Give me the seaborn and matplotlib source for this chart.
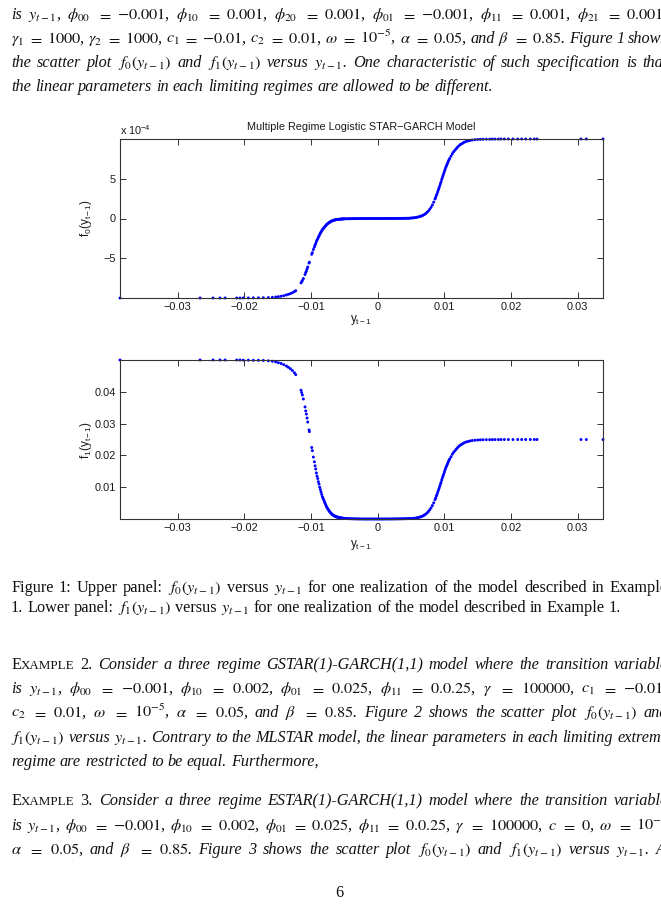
import matplotlib
matplotlib.use("Agg")
import matplotlib.pyplot as plt
import seaborn as sns
import pandas as pd

# one realization: lagged transition variable y_{t-1} (shared by both panels)
y_lag = [
    -0.03866, -0.02665, -0.0247, -0.02366, -0.0229, -0.02115, -0.02066, -0.02016,
    -0.0194, -0.01866, -0.0179, -0.01716, -0.0164,
    -0.0158, -0.0153, -0.0149, -0.0145, -0.0141, -0.0137, -0.0134, -0.0131,
    -0.0128, -0.0125, -0.0123,
    -0.0115, -0.0114, -0.0113, -0.01115,
    -0.0109, -0.0108, -0.0107, -0.0106, -0.0105, -0.0103, -0.01025,
    -0.0099, -0.0098, -0.00965, -0.0095, -0.0094, -0.0093, -0.0092, -0.0091,
    -0.0090, -0.0089, -0.0088, -0.0087, -0.0086, -0.0085, -0.0084, -0.0083,
    -0.0082, -0.0081, -0.0080, -0.0079, -0.0078, -0.0077, -0.0076, -0.0075,
    -0.0074, -0.0073, -0.0072, -0.0071, -0.0070, -0.0069, -0.0068, -0.0067,
    -0.0066, -0.0065, -0.0064, -0.0063, -0.0062, -0.0061, -0.0060, -0.0059,
    -0.0058, -0.0057, -0.0056, -0.0055, -0.0054, -0.0053, -0.0052, -0.0051,
    -0.0050, -0.0048, -0.0046, -0.0044, -0.0042, -0.0040, -0.0038, -0.0036,
    -0.0034, -0.0032, -0.0030, -0.0028, -0.0026, -0.0024, -0.0022, -0.0020,
    -0.0018, -0.0016, -0.0014, -0.0012, -0.0010, -0.0008, -0.0006, -0.0004,
    -0.0002, 0.0000, 0.0002, 0.0004, 0.0006, 0.0008, 0.0010, 0.0012, 0.0014,
    0.0016, 0.0018, 0.0020, 0.0022, 0.0024, 0.0026, 0.0028, 0.0030, 0.0032,
    0.0034, 0.0036, 0.0038, 0.0040, 0.0042, 0.0044, 0.0046, 0.0048,
    0.0050, 0.0052, 0.0054, 0.0056, 0.0058, 0.0060, 0.0062, 0.0064, 0.0066,
    0.0068, 0.0070, 0.0072, 0.0074, 0.0076, 0.0078, 0.0080, 0.0082, 0.0084,
    0.0086, 0.0087, 0.0088, 0.0089, 0.0090, 0.0091, 0.0092, 0.0093, 0.0094,
    0.0095, 0.0096, 0.0097, 0.0098, 0.0099, 0.0100, 0.0101, 0.0102, 0.0103,
    0.0104, 0.0105, 0.0106, 0.0107, 0.0108, 0.0110, 0.0112, 0.0114, 0.0116,
    0.0118, 0.0120, 0.0122, 0.0124, 0.0126, 0.0128, 0.0130, 0.0133, 0.0136,
    0.0139, 0.0142, 0.0146, 0.0150, 0.0154,
    0.0158, 0.0163, 0.0168, 0.0172, 0.0176, 0.0181, 0.0185, 0.0190, 0.0196,
    0.0203, 0.0210, 0.0216, 0.0222, 0.0229, 0.0235, 0.0239, 0.0305, 0.0313,
    0.0338,
]

# f0(y_{t-1}), in units of 1e-4
f0_e4 = [
    -10.0, -10.0, -10.0, -10.0, -10.0, -10.0, -10.0, -9.99,
    -9.99, -9.98, -9.98, -9.97, -9.95,
    -9.92, -9.88, -9.83, -9.78, -9.71, -9.62, -9.54, -9.45,
    -9.34, -9.2, -9.08,
    -8.1, -7.95, -7.8, -7.55,
    -7.05, -6.8, -6.6, -6.35, -6.1, -5.6, -5.5,
    -4.5, -4.3, -3.9, -3.6, -3.35, -3.15, -2.9, -2.7,
    -2.55, -2.35, -2.2, -2.0, -1.85, -1.7, -1.55, -1.4,
    -1.3, -1.2, -1.1, -1.0, -0.9, -0.8, -0.72, -0.65,
    -0.58, -0.52, -0.46, -0.41, -0.36, -0.32, -0.28, -0.25,
    -0.22, -0.2, -0.18, -0.16, -0.14, -0.13, -0.12, -0.11,
    -0.1, -0.09, -0.08, -0.07, -0.06, -0.06, -0.05, -0.05,
    -0.04, -0.035, -0.03, -0.027, -0.023, -0.02, -0.017, -0.015,
    -0.013, -0.011, -0.01, -0.008, -0.007, -0.006, -0.005, -0.004,
    -0.003, -0.003, -0.002, -0.002, -0.001, -0.001, -0.001, 0.0,
    0.0, 0.0, 0.0, 0.0, 0.001, 0.001, 0.001, 0.002, 0.002,
    0.003, 0.003, 0.004, 0.005, 0.006, 0.007, 0.008, 0.01, 0.011,
    0.013, 0.015, 0.017, 0.02, 0.023, 0.027, 0.031, 0.035,
    0.06, 0.07, 0.09, 0.11, 0.14, 0.18, 0.22, 0.27, 0.33,
    0.41, 0.5, 0.62, 0.77, 0.94, 1.15, 1.4, 1.7, 2.05,
    2.45, 2.65, 2.9, 3.1, 3.35, 3.6, 3.85, 4.1, 4.35,
    4.6, 4.9, 5.15, 5.4, 5.65, 5.9, 6.15, 6.4, 6.6,
    6.8, 7.0, 7.2, 7.4, 7.55, 7.85, 8.15, 8.4, 8.6,
    8.8, 9.0, 9.15, 9.3, 9.4, 9.5, 9.6, 9.7, 9.77,
    9.83, 9.87, 9.91, 9.94, 9.96,
    9.97, 9.98, 9.98, 9.99, 9.99, 9.99, 10.0, 10.0, 10.0,
    10.0, 10.0, 10.0, 10.0, 10.0, 10.0, 10.0, 10.0, 10.0,
    10.0,
]

# f1(y_{t-1})
f1 = [
    0.05, 0.05, 0.05, 0.05, 0.05, 0.05, 0.05, 0.04995,
    0.04995, 0.0499, 0.0499, 0.04985, 0.04975,
    0.0496, 0.0494, 0.04915, 0.0489, 0.04855, 0.0481, 0.0477, 0.04725,
    0.0467, 0.046, 0.0454,
    0.0405, 0.03975, 0.039, 0.03775,
    0.03525, 0.034, 0.033, 0.03175, 0.0305, 0.028, 0.0275,
    0.0225, 0.0215, 0.0195, 0.018, 0.01675, 0.01575, 0.0145, 0.0135,
    0.01275, 0.01175, 0.011, 0.010, 0.00925, 0.0085, 0.00775, 0.007,
    0.0065, 0.006, 0.0055, 0.005, 0.0045, 0.004, 0.0036, 0.00325,
    0.0029, 0.0026, 0.0023, 0.00205, 0.0018, 0.0016, 0.0014, 0.00125,
    0.0011, 0.001, 0.0009, 0.0008, 0.0007, 0.00065, 0.0006, 0.00055,
    0.0005, 0.00045, 0.0004, 0.00035, 0.0003, 0.0003, 0.00025, 0.00025,
    0.0002, 0.00018, 0.00016, 0.00014, 0.00012, 0.0001, 0.00009, 0.00008,
    0.00007, 0.00006, 0.00005, 0.00004, 0.00004, 0.00003, 0.00003, 0.00002,
    0.00002, 0.00002, 0.00002, 0.00002, 0.00002, 0.00002, 0.00002, 0.00002,
    0.00002, 0.00002, 0.00002, 0.00002, 0.00002, 0.00002, 0.00003, 0.00003, 0.00003,
    0.00003, 0.00004, 0.00004, 0.00004, 0.00005, 0.00005, 0.00006, 0.00006, 0.00007,
    0.00008, 0.00009, 0.0001, 0.00011, 0.00012, 0.00013, 0.00014, 0.00015,
    0.00015, 0.000175, 0.000225, 0.000275, 0.00035, 0.00045, 0.00055, 0.000675, 0.000825,
    0.001, 0.00125, 0.00155, 0.0019, 0.00235, 0.0029, 0.0035, 0.00425, 0.0051,
    0.0061, 0.0066, 0.00725, 0.00775, 0.0084, 0.009, 0.0096, 0.01025, 0.0109,
    0.0115, 0.01225, 0.0129, 0.0135, 0.0141, 0.01475, 0.0154, 0.016, 0.0165,
    0.017, 0.0175, 0.018, 0.0185, 0.0189, 0.0196, 0.0204, 0.021, 0.0215,
    0.022, 0.0225, 0.0229, 0.02325, 0.0235, 0.02375, 0.024, 0.02425, 0.0244,
    0.02458, 0.02468, 0.02478, 0.02485, 0.0249,
    0.02493, 0.02495, 0.02496, 0.02497, 0.02498, 0.02498, 0.025, 0.025, 0.025,
    0.025, 0.025, 0.025, 0.025, 0.025, 0.025, 0.025, 0.025, 0.025,
    0.025,
]

x_ticks = [-0.03, -0.02, -0.01, 0, 0.01, 0.02, 0.03]
x_tick_labels = ["\u22120.03", "\u22120.02", "\u22120.01", "0", "0.01", "0.02", "0.03"]
f0_ticks = [-5, 0, 5]
f0_tick_labels = ["\u22125", "0", "5"]
f1_ticks = [0.01, 0.02, 0.03, 0.04]
f1_tick_labels = ["0.01", "0.02", "0.03", "0.04"]

df = pd.DataFrame({"y_lag": y_lag, "f0": f0_e4, "f1": f1})

sns.set_style("ticks")
plt.rcParams["font.family"] = ["Liberation Sans", "DejaVu Sans"]
plt.rcParams["mathtext.fontset"] = "stix"

W, H = 661, 909
fig = plt.figure(figsize=(W / 100, H / 100), dpi=100)


def rect(l, t, r, b):
    return [l / W, 1 - b / H, (r - l) / W, (b - t) / H]


def px(x, y):
    return x / W, 1 - y / H


ink = "#1a1a1a"
tick_fs = 7.9


def panel(ax, col, ticks, labels, ylab_y, xlab_y):
    sns.scatterplot(data=df, x="y_lag", y=col, ax=ax, color="blue", s=4.5,
                    linewidth=0, edgecolor="none", legend=False, clip_on=False)
    ax.set_xlim(df["y_lag"].min(), df["y_lag"].max())
    ax.set_ylim(df[col].min(), df[col].max())
    ax.set_xticks(x_ticks)
    ax.set_xticklabels(x_tick_labels)
    ax.set_yticks(ticks)
    ax.set_yticklabels(labels)
    ax.tick_params(direction="in", top=True, right=True, length=4, width=0.7,
                   labelsize=tick_fs, labelcolor=ink, color="#333333", pad=3)
    for sp in ax.spines.values():
        sp.set_visible(True)
        sp.set_linewidth(0.8)
        sp.set_color("#333333")
    ax.set_xlabel("")
    ax.set_ylabel("")
    fig.text(*px(86, ylab_y), r"$\mathregular{f_%s(y_{t-1})}$" % col[1],
             rotation=90, ha="center", va="center", fontsize=8.5, color=ink)
    fig.text(*px(361, xlab_y), r"$\mathregular{y_{t-1}}$", ha="center",
             va="center", fontsize=8.5, color=ink)


ax0 = fig.add_axes(rect(120, 139, 603, 298))
panel(ax0, "f0", f0_ticks, f0_tick_labels, 218, 320)
fig.text(*px(361, 127), "Multiple Regime Logistic STAR\u2212GARCH Model",
         ha="center", va="center", fontsize=7.8, color=ink)
fig.text(*px(120, 130), r"$\mathregular{x\ 10^{-4}}$", ha="left", va="center",
         fontsize=7.8, color=ink)

ax1 = fig.add_axes(rect(120, 360, 603, 519))
panel(ax1, "f1", f1_ticks, f1_tick_labels, 440, 545)

# ---- surrounding page text (justified lines run past the cropped right edge) ----
renderer = fig.canvas.get_renderer()
body = 11.7
serif = ["Liberation Serif", "DejaVu Serif"]
it, rm = "italic", "normal"
space = 0.25 * body * 100 / 72


def words(text, style):
    return [[(w, 1.0, style)] for w in text.split()]


def line(y, ws, right=None, x0=11):
    groups = []
    for w in ws:
        off, arts = 0.0, []
        for txt, scale, style in w:
            t = fig.text(0, 0, txt, ha="left", va="baseline", fontsize=body * scale,
                         fontstyle=style, family=serif, color="#111111")
            arts.append((t, off))
            off += t.get_window_extent(renderer=renderer).width
        groups.append((arts, off))
    total = sum(g[1] for g in groups)
    gap = space if right is None else (right - x0 - total) / (len(groups) - 1)
    x = x0
    for arts, wdt in groups:
        for t, off in arts:
            t.set_position(px(x + off, y))
        x += wdt + gap


def example(n):
    return [[("E", 1.0, rm), ("XAMPLE", 0.8, rm)], [("%d." % n, 1.0, rm)]]


R = 668
line(19, words(r"is $y_{t-1}$, $\phi_{00}$ $=$ $-0.001$, $\phi_{10}$ $=$ $0.001$, "
               r"$\phi_{20}$ $=$ $0.001$, $\phi_{01}$ $=$ $-0.001$, $\phi_{11}$ $=$ "
               r"$0.001$, $\phi_{21}$ $=$ $0.001$,", it), R)
line(43, words(r"$\gamma_1$ $=$ $1000$, $\gamma_2$ $=$ $1000$, $c_1$ $=$ $-0.01$, "
               r"$c_2$ $=$ $0.01$, $\omega$ $=$ $10^{-5}$, $\alpha$ $=$ $0.05$, and "
               r"$\beta$ $=$ $0.85$. Figure 1 shows", it), R)
line(67, words(r"the scatter plot $f_0(y_{t-1})$ and $f_1(y_{t-1})$ versus $y_{t-1}$. "
               r"One characteristic of such specification is that", it), R)
line(91, words("the linear parameters in each limiting regimes are allowed to be "
               "different.", it))

line(592, words(r"Figure 1: Upper panel: $f_0(y_{t-1})$ versus $y_{t-1}$ for one "
                r"realization of the model described in Example", rm), R)
line(612, words(r"1. Lower panel: $f_1(y_{t-1})$ versus $y_{t-1}$ for one realization "
                r"of the model described in Example 1.", rm))

line(669, example(2) + words("Consider a three regime GSTAR(1)-GARCH(1,1) model "
                             "where the transition variable", it), R)
line(693, words(r"is $y_{t-1}$, $\phi_{00}$ $=$ $-0.001$, $\phi_{10}$ $=$ $0.002$, "
                r"$\phi_{01}$ $=$ $0.025$, $\phi_{11}$ $=$ $0.0.25$, $\gamma$ $=$ "
                r"$100000$, $c_1$ $=$ $-0.01$,", it), R)
line(717, words(r"$c_2$ $=$ $0.01$, $\omega$ $=$ $10^{-5}$, $\alpha$ $=$ $0.05$, and "
                r"$\beta$ $=$ $0.85$. Figure 2 shows the scatter plot $f_0(y_{t-1})$ and",
                it), R)
line(742, words(r"$f_1(y_{t-1})$ versus $y_{t-1}$. Contrary to the MLSTAR model, the "
                r"linear parameters in each limiting extreme", it), R)
line(766, words("regime are restricted to be equal. Furthermore,", it))

line(805, example(3) + words("Consider a three regime ESTAR(1)-GARCH(1,1) model "
                             "where the transition variable", it), R)
line(830, words(r"is $y_{t-1}$, $\phi_{00}$ $=$ $-0.001$, $\phi_{10}$ $=$ $0.002$, "
                r"$\phi_{01}$ $=$ $0.025$, $\phi_{11}$ $=$ $0.0.25$, $\gamma$ $=$ "
                r"$100000$, $c$ $=$ $0$, $\omega$ $=$ $10^{-5}$,", it), 672)
line(854, words(r"$\alpha$ $=$ $0.05$, and $\beta$ $=$ $0.85$. Figure 3 shows the "
                r"scatter plot $f_0(y_{t-1})$ and $f_1(y_{t-1})$ versus $y_{t-1}$. As",
                it), 672)

fig.text(*px(339, 897), "6", ha="center", va="baseline", fontsize=body,
         family=serif, color="#111111")

fig.savefig("out.png", dpi=100)
